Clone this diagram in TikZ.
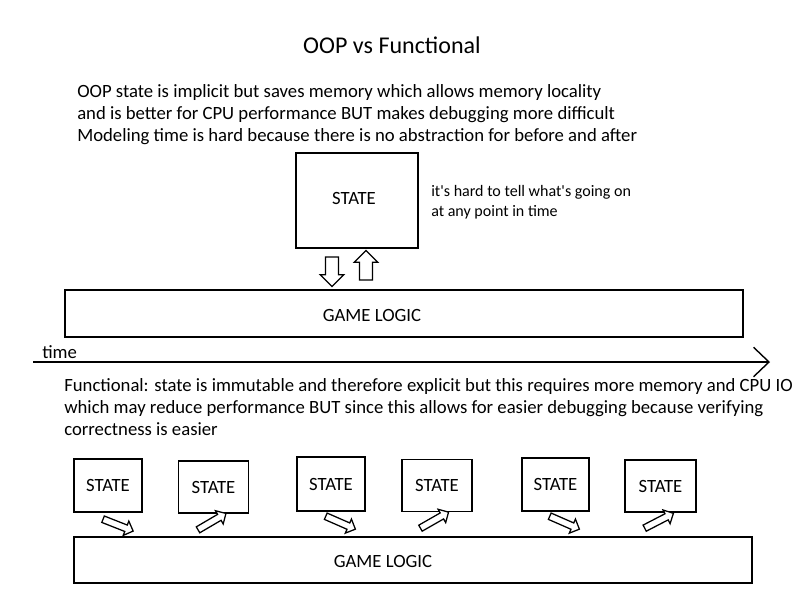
\documentclass[tikz,border=0pt]{standalone}
\usepackage{fontspec}
\setmainfont{Carlito}[Ligatures=TeXOff]
\usetikzlibrary{shapes.arrows, arrows.meta}
\tikzstyle{box} = [rectangle, draw=black, line width=1.3pt, inner sep=0pt, font=\fontsize{13.3}{16}\selectfont]
\tikzstyle{txt} = [anchor=north west, align=left, inner sep=0pt, font=\fontsize{13.3}{15.6}\selectfont]
\tikzstyle{hollow} = [single arrow, draw=black, line width=0.9pt, fill=white, inner xsep=0pt, single arrow head indent=0pt, sloped]
\tikzstyle{bigflow} = [hollow, inner ysep=4.2pt, single arrow head extend=3.8pt, minimum height=21pt]
\tikzstyle{smallflow} = [hollow, inner ysep=2pt, single arrow head extend=3pt, minimum height=23pt]
\tikzstyle{timeline} = [line width=1pt, -{Straight Barb[length=11pt, width=21pt, line width=1pt]}]

\begin{document}
\begin{tikzpicture}[x=0.025cm, y=-0.025cm]
	\useasboundingbox (0,0) rectangle (800,600);
	\node (title) [inner sep=0pt, font=\fontsize{17.1}{20}\selectfont] at (392,45) {OOP vs Functional};
	\node (oop) [txt] at (77,84) {OOP state is implicit but saves memory which allows memory locality\\
		and is better for CPU performance BUT makes debugging more difficult\\
		Modeling time is hard because there is no abstraction for before and after};
	% OOP
	\node (state) [box, minimum width=3.05cm, minimum height=2.375cm] at (357,200.5) {};
	\node (statetxt) [inner sep=0pt, font=\fontsize{13.3}{16}\selectfont] at (354,198) {STATE};
	\node (hard) [txt, font=\fontsize{11.4}{14}\selectfont] at (431,185) {it's hard to tell what's going on\\at any point in time};
	\node (logic) [box, minimum width=16.95cm, minimum height=1.175cm] at (404,313.5) {};
	\node (logictxt) [inner sep=0pt, font=\fontsize{13.3}{16}\selectfont] at (372,315) {GAME LOGIC};
	\coordinate (r1) at (332,253);
	\coordinate (w1) at (332,284);
	\coordinate (r2) at (366,284);
	\coordinate (w2) at (366,253);
	\path (r1) -- node (read) [bigflow] {} (w1);
	\path (r2) -- node (write) [bigflow] {} (w2);
	% time
	\node (time) [inner sep=0pt, anchor=west, font=\fontsize{13.3}{16}\selectfont] at (42,352) {time};
	\coordinate (t0) at (33,362);
	\coordinate (t1) at (770,362);
	\draw [timeline] (t0) -- (t1);
	% Functional
	\node (func) [txt] at (64,378) {Functional: state is immutable and therefore explicit but this requires more memory and CPU IO\\
		which may reduce performance BUT since this allows for easier debugging because verifying\\
		correctness is easier};
	\node (s1) [box, minimum width=1.7cm, minimum height=1.32cm] at (108,485.5) {STATE};
	\node (s2) [box, minimum width=1.75cm, minimum height=1.3cm] at (213.5,487) {STATE};
	\node (s3) [box, minimum width=1.7cm, minimum height=1.35cm] at (331,484) {STATE};
	\node (s4) [box, minimum width=1.75cm, minimum height=1.3cm] at (437,485.5) {STATE};
	\node (s5) [box, minimum width=1.68cm, minimum height=1.33cm] at (555.5,484.5) {STATE};
	\node (s6) [box, minimum width=1.78cm, minimum height=1.3cm] at (660.5,486) {STATE};
	\node (logic2) [box, minimum width=16.95cm, minimum height=1.15cm] at (413,560) {};
	\node (logic2txt) [inner sep=0pt, font=\fontsize{13.3}{16}\selectfont] at (383,561) {GAME LOGIC};
	\coordinate (f1a) at (100,518);
	\coordinate (f1b) at (133,531);
	\coordinate (f2a) at (196,531);
	\coordinate (f2b) at (225,514);
	\coordinate (f3a) at (323,515);
	\coordinate (f3b) at (355,529);
	\coordinate (f4a) at (419,529);
	\coordinate (f4b) at (447,513);
	\coordinate (f5a) at (547,515);
	\coordinate (f5b) at (579,529);
	\coordinate (f6a) at (643,529);
	\coordinate (f6b) at (672,514);
	\path (f1a) -- node (in1) [smallflow] {} (f1b);
	\path (f2a) -- node (out1) [smallflow] {} (f2b);
	\path (f3a) -- node (in2) [smallflow] {} (f3b);
	\path (f4a) -- node (out2) [smallflow] {} (f4b);
	\path (f5a) -- node (in3) [smallflow] {} (f5b);
	\path (f6a) -- node (out3) [smallflow] {} (f6b);
\end{tikzpicture}
\end{document}
